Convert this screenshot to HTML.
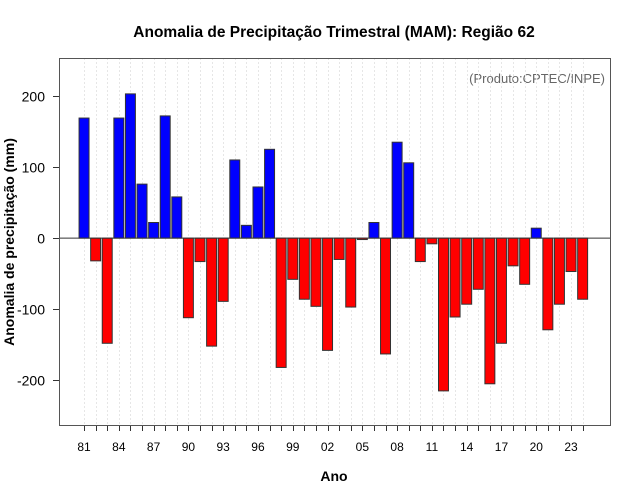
<!DOCTYPE html>
<html><head><meta charset="utf-8"><style>
body{margin:0;background:#fff;}
svg{display:block;font-family:"Liberation Sans",sans-serif;}
</style></head><body>
<svg id="chart" width="640" height="500">
<rect x="0" y="0" width="640" height="500" fill="#fff"/>
<text x="334" y="37" text-anchor="middle" font-size="15.5" font-weight="bold">Anomalia de Precipitação Trimestral (MAM): Região 62</text>
<text x="334" y="481" text-anchor="middle" font-size="14" font-weight="bold">Ano</text>
<text transform="translate(14,242) rotate(-90)" text-anchor="middle" font-size="14" font-weight="bold">Anomalia de precipitação (mm)</text>
<text x="605" y="83" text-anchor="end" font-size="13" fill="#666">(Produto:CPTEC/INPE)</text>
<g id="grid"></g><g id="bars"></g><g id="axes"></g>
<rect x="59.5" y="58.5" width="551" height="367" fill="none" stroke="#555" stroke-width="1"/>
</svg>
<script>
const years = [];
for (let y = 1981; y <= 2024; y++) years.push(y);
const values = [169,-32,-148,169,203,76,22,172,58,-112,-33,-152,-89,110,18,72,125,-182,-58,-86,-96,-158,-30,-97,-2,22,-163,135,106,-33,-8,-215,-111,-93,-72,-205,-148,-39,-65,14,-129,-93,-47,-86];
const yTicks = [-200,-100,0,100,200];
const yTickLabels = ["-200","-100","0","100","200"];
const xLabelYears = [1981,1984,1987,1990,1993,1996,1999,2002,2005,2008,2011,2014,2017,2020,2023];

const NS = "http://www.w3.org/2000/svg";
const X0 = 59, X1 = 610, Y0 = 58, Y1 = 425;
const xMin = 1978.84, xMax = 2026.36, vMin = -263, vMax = 253.5;
const xs = v => X0 + (v - xMin) / (xMax - xMin) * (X1 - X0);
const ys = v => Y1 - (v - vMin) / (vMax - vMin) * (Y1 - Y0);
function mk(tag, attrs, parent) {
  const e = document.createElementNS(NS, tag);
  for (const k in attrs) e.setAttribute(k, attrs[k]);
  parent.appendChild(e);
  return e;
}
const grid = document.getElementById("grid"), bars = document.getElementById("bars"), axes = document.getElementById("axes");
const bw = (xs(1) - xs(0)) * 0.86;
years.forEach((yr, i) => {
  const gx = Math.round(xs(yr)) + 0.5;
  const g = mk("line", {x1: gx, x2: gx, y1: Y0, y2: Y1, stroke: "#e6e6e6", "stroke-dasharray": "2,2"}, grid);
  
  
  const t = mk("line", {x1: gx, x2: gx, y1: Y1, y2: Y1 + 6, stroke: "#333"}, axes);
  
  
  const v = values[i];
  const top = ys(Math.max(v, 0)), bot = ys(Math.min(v, 0));
  const r = mk("rect", {x: xs(yr) - bw / 2, y: top, width: bw, height: Math.max(bot - top, 0.5), fill: v >= 0 ? "#0000ff" : "#ff0000", stroke: "#333", "stroke-width": 1}, bars);
  
  
});
const zl = mk("line", {x1: X0, x2: X1, y1: ys(0), y2: ys(0), stroke: "#333"}, bars);


xLabelYears.forEach(yr => {
  const t = mk("text", {x: xs(yr), y: 451, "text-anchor": "middle", "font-size": 12}, axes);
  t.textContent = String(yr).slice(2);
  
  
});
yTicks.forEach((v, i) => {
  const yy = Math.round(ys(v)) + 0.5;
  const l = mk("line", {x1: X0 - 6, x2: X0, y1: yy, y2: yy, stroke: "#333"}, axes);
  
  
  const t = mk("text", {x: 45, y: yy + 5, "text-anchor": "end", "font-size": 14}, axes);
  t.textContent = yTickLabels[i];
  
  
});
</script>
</body></html>
